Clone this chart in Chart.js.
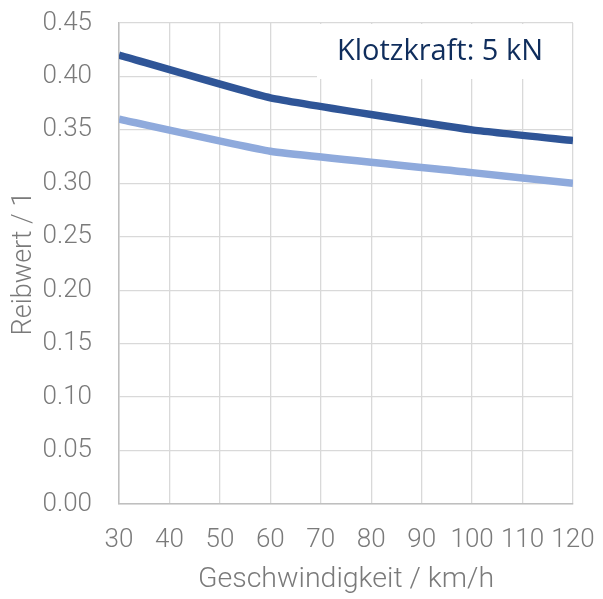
<!DOCTYPE html>
<html><head><meta charset="utf-8">
<script src="https://cdn.jsdelivr.net/npm/chart.js@4/dist/chart.umd.min.js"></script>
<style>html,body{margin:0;padding:0;background:#fff}#wrap{width:603px;height:599px}</style>
</head><body><div id="wrap"><canvas id="c" width="603" height="599"></canvas></div>
<script>
const speeds = [30, 60, 100, 120];
const seriesDark = [0.42, 0.38, 0.35, 0.34];
const seriesLight = [0.36, 0.33, 0.31, 0.30];
const annotationText = "Klotzkraft: 5 kN";
const xTitle = "Geschwindigkeit / km/h";
const yTitle = "Reibwert / 1";

const toPts = (xs, ys) => xs.map((x, i) => ({x: x, y: ys[i]}));

const boxPlugin = {
  id: 'box',
  afterDatasetsDraw(chart) {
    const ctx = chart.ctx, a = chart.chartArea;
    ctx.save();
    ctx.fillStyle = '#ffffff';
    ctx.fillRect(a.right - 256, a.top + 1, 255, 55);
    ctx.font = '400 29px "Open Sans"';
    ctx.fillStyle = '#0f2d5c';
    ctx.textAlign = 'center';
    ctx.textBaseline = 'middle';
    ctx.fillText(annotationText, a.right - 133, a.top + 29);
    ctx.restore();
  }
};

const tickFont = {family: 'Roboto', size: 26, weight: '300'};
const yTitleFont = {family: 'Roboto', size: 27, weight: '300'};
const xTitleFont = {family: 'Roboto', size: 28.5, weight: '300'};

new Chart(document.getElementById('c'), {
  type: 'line',
  data: {
    datasets: [
      {data: toPts(speeds, seriesDark), borderColor: '#2f5597', borderWidth: 7.5, pointRadius: 0, tension: 0.12, fill: false},
      {data: toPts(speeds, seriesLight), borderColor: '#8faadc', borderWidth: 7.5, pointRadius: 0, tension: 0.12, fill: false}
    ]
  },
  options: {
    responsive: false,
    animation: false,
    devicePixelRatio: 1,
    layout: {padding: {top: 23, right: 30, left: 0, bottom: 0}},
    plugins: {legend: {display: false}, tooltip: {enabled: false}},
    scales: {
      x: {
        type: 'linear', min: 30, max: 120,
        ticks: {stepSize: 10, color: '#7a7a7a', font: tickFont, padding: 21, maxRotation: 0},
        grid: {color: '#d9d9d9', lineWidth: 1.3, drawTicks: false},
        border: {color: '#bfbfbf', width: 1.5},
        title: {display: true, text: xTitle, color: '#7a7a7a', font: xTitleFont, padding: {top: 4, bottom: 2}},
        afterFit(s) { s.height = 95; s.paddingLeft = 0; s.paddingRight = 0; }
      },
      y: {
        min: 0, max: 0.45,
        ticks: {stepSize: 0.05, color: '#7a7a7a', font: tickFont, padding: 27, callback: v => v.toFixed(2)},
        grid: {color: '#d9d9d9', lineWidth: 1.3, drawTicks: false},
        border: {color: '#bfbfbf', width: 1.5},
        title: {display: true, text: yTitle, color: '#7a7a7a', font: yTitleFont, padding: {top: 8, bottom: 0}},
        afterFit(s) { s.width = 119; s.paddingTop = 0; s.paddingBottom = 0; }
      }
    }
  },
  plugins: [boxPlugin]
});
</script></body></html>
